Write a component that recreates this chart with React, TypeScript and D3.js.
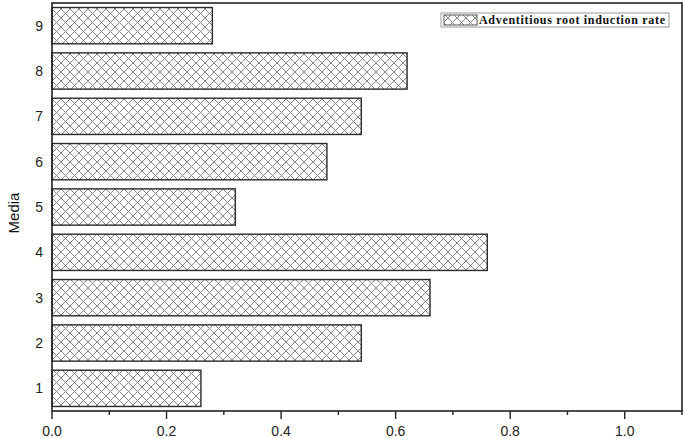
import React from "react";
import * as d3 from "d3";

const categories = ["1", "2", "3", "4", "5", "6", "7", "8", "9"];
const values = [0.26, 0.54, 0.66, 0.76, 0.32, 0.48, 0.54, 0.62, 0.28];
const xMajorTicks = [0, 0.2, 0.4, 0.6, 0.8, 1.0];
const xMinorTicks = [0.1, 0.3, 0.5, 0.7, 0.9, 1.1];
const seriesName = "Adventitious root induction rate";
const yLabel = "Media";

const W = 685;
const H = 438;
const left = 52;
const right = 682;
const top = 3;
const bottom = 411;

export default function App() {
  const x = d3.scaleLinear().domain([0, 1.1]).range([left, right]);
  const y = d3
    .scaleBand<string>()
    .domain(categories)
    .range([bottom, top])
    .paddingInner(0.2)
    .paddingOuter(0.1);

  const sans = "'Liberation Sans', Arial, sans-serif";
  const serif = "'Liberation Serif', 'Times New Roman', serif";

  return (
    <svg
      width={W}
      height={H}
      style={{ position: "absolute", left: 0, top: 0, display: "block", background: "#fff" }}
    >
      <defs>
        <pattern id="xhatch" patternUnits="userSpaceOnUse" width={9} height={9} x={left} y={0}>
          <rect width={9} height={9} fill="#fff" />
          <path d="M0,0 L9,9 M9,0 L0,9" stroke="#7a7a7a" strokeWidth={0.9} />
        </pattern>
      </defs>

      {/* bars */}
      {categories.map((c, i) => (
        <rect
          key={c}
          x={x(0)}
          y={y(c)}
          width={x(values[i]) - x(0)}
          height={y.bandwidth()}
          fill="url(#xhatch)"
          stroke="#2a2a2a"
          strokeWidth={1.4}
        />
      ))}

      {/* frame */}
      <rect
        x={left}
        y={top}
        width={right - left}
        height={bottom - top}
        fill="none"
        stroke="#222"
        strokeWidth={1.6}
      />

      {/* x ticks */}
      {xMajorTicks.map((t) => (
        <g key={"M" + t}>
          <line x1={x(t)} x2={x(t)} y1={bottom} y2={bottom + 8} stroke="#222" strokeWidth={1.4} />
          <text
            x={x(t)}
            y={436}
            textAnchor="middle"
            fontFamily={sans}
            fontSize={14}
            fill="#222"
          >
            {t.toFixed(1)}
          </text>
        </g>
      ))}
      {xMinorTicks.map((t) => (
        <line key={"m" + t} x1={x(t)} x2={x(t)} y1={bottom} y2={bottom + 4} stroke="#222" strokeWidth={1.4} />
      ))}

      {/* y labels */}
      {categories.map((c) => (
        <text
          key={"yl" + c}
          x={43}
          y={(y(c) as number) + y.bandwidth() / 2}
          dy="0.35em"
          textAnchor="end"
          fontFamily={sans}
          fontSize={14}
          fill="#222"
        >
          {c}
        </text>
      ))}

      <text
        transform={`translate(18.5,213) rotate(-90)`}
        textAnchor="middle"
        fontFamily={sans}
        fontSize={15}
        fill="#111"
      >
        {yLabel}
      </text>

      {/* legend */}
      <rect x={441} y={13} width={228} height={14} fill="#fff" stroke="#999" strokeWidth={1} />
      <rect x={444} y={15} width={33} height={10} fill="url(#xhatch)" stroke="#555" strokeWidth={1} />
      <text
        x={479}
        y={24}
        fontFamily={serif}
        fontWeight="bold"
        fontSize={12}
        fill="#111"
        textLength={186}
        lengthAdjust="spacing"
      >
        {seriesName}
      </text>
    </svg>
  );
}
